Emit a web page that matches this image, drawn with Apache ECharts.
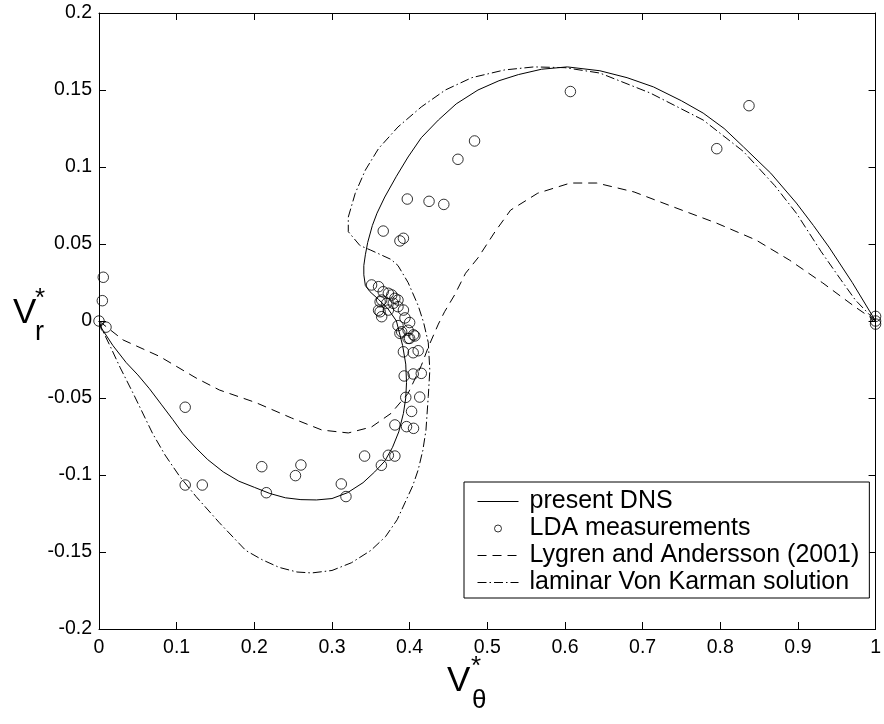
<!DOCTYPE html>
<html><head><meta charset="utf-8">
<script src="https://cdn.jsdelivr.net/npm/echarts@6/dist/echarts.min.js"></script>
<style>html,body{margin:0;padding:0;background:#fff}#c{width:884px;height:724px}</style>
</head><body><div id="c"></div>
<script>
// x tick labels / y tick labels
var xTicks = ['0','0.1','0.2','0.3','0.4','0.5','0.6','0.7','0.8','0.9','1'];
var yTicks = ['-0.2','-0.15','-0.1','-0.05','0','0.05','0.1','0.15','0.2'];
var legendNames = ['present DNS','LDA measurements','Lygren and Andersson (2001)','laminar Von Karman solution'];

// present DNS (solid)
var dnsX = [0,0.003,0.018,0.035,0.05,0.065,0.08,0.095,0.108,0.125,0.14,0.16,0.18,0.2,0.22,0.24,0.26,0.28,0.30,0.32,0.34,0.355,0.368,0.378,0.386,0.392,0.395,0.396,0.395,0.391,0.383,0.372,0.36,0.349,0.343,0.341,0.341,0.343,0.346,0.352,0.358,0.368,0.383,0.398,0.415,0.437,0.46,0.488,0.515,0.54,0.57,0.603,0.645,0.68,0.714,0.75,0.778,0.805,0.83,0.865,0.898,0.92,0.94,0.97,1.0];
var dnsY = [0,-0.0045,-0.016,-0.027,-0.035,-0.044,-0.054,-0.064,-0.073,-0.0825,-0.090,-0.098,-0.104,-0.108,-0.112,-0.1148,-0.116,-0.1162,-0.1153,-0.1115,-0.105,-0.098,-0.091,-0.082,-0.072,-0.060,-0.050,-0.040,-0.028,-0.016,0.0,0.008,0.014,0.019,0.023,0.030,0.036,0.043,0.051,0.062,0.070,0.0805,0.094,0.1065,0.119,0.1305,0.141,0.150,0.156,0.160,0.1635,0.165,0.1625,0.158,0.152,0.143,0.135,0.125,0.113,0.096,0.0766,0.062,0.048,0.025,0.0];

// LDA measurements (circles)
var ldaX = [0,0.0055,0.0043,0.009,0.111,0.111,0.133,0.2096,0.2155,0.26,0.253,0.312,0.318,0.342,0.3636,0.3726,0.381,
  0.381,0.396,0.405,0.4025,0.395,0.413,0.393,0.4046,0.415,0.392,0.4046,0.411,0.400,0.4067,0.3875,
  0.385,0.400,0.394,0.3897,0.398,0.405,0.398,
  0.351,0.360,0.366,0.3726,0.377,0.381,0.385,0.364,0.3705,0.379,0.362,0.3726,0.364,0.385,0.392,0.362,0.36,
  0.366,0.3875,0.392,0.397,0.425,0.444,0.4622,0.4836,0.607,0.7955,0.837,1,1,1];
var ldaY = [0,0.0284,0.0132,-0.004,-0.056,-0.1065,-0.1065,-0.0946,-0.1115,-0.0935,-0.1004,-0.1058,-0.114,-0.0877,-0.0937,-0.0872,-0.0877,
  -0.0675,-0.0686,-0.0697,-0.0587,-0.0496,-0.0494,-0.0357,-0.0344,-0.034,-0.020,-0.0206,-0.0193,-0.0113,-0.0097,-0.008,
  -0.003,-0.001,0.002,-0.007,-0.006,-0.009,-0.0113,
  0.0234,0.0223,0.019,0.018,0.0169,0.0147,0.0136,0.0136,0.0115,0.0115,0.006,0.0071,0.0028,0.0093,0.0071,0.0125,0.007,
  0.0584,0.052,0.0537,0.0792,0.0777,0.0757,0.105,0.1169,0.149,0.1119,0.1398,0.003,0,-0.002];

// Lygren and Andersson (2001) (dashed)
var lygX = [0,0.031,0.078,0.125,0.155,0.202,0.248,0.287,0.321,0.351,0.376,0.398,0.415,0.424,0.437,0.445,0.458,0.472,0.488,0.51,0.53,0.565,0.607,0.641,0.689,0.74,0.795,0.846,0.889,0.932,0.974,1.0];
var lygY = [0,-0.0123,-0.023,-0.037,-0.0448,-0.053,-0.063,-0.0708,-0.0727,-0.0688,-0.060,-0.047,-0.029,-0.017,-0.002,0.006,0.017,0.031,0.041,0.058,0.072,0.083,0.0896,0.0896,0.0838,0.074,0.0636,0.0526,0.0396,0.0247,0.009,0.0];

// laminar Von Karman solution (dash-dot)
var vkX = [0,0.003,0.015,0.027,0.044,0.069,0.085,0.104,0.125,0.155,0.189,0.21,0.232,0.255,0.274,0.30,0.325,0.35,0.369,0.384,0.394,0.404,0.411,0.417,0.421,0.424,0.426,0.424,0.418,0.411,0.398,0.385,0.376,0.35,0.336,0.321,0.321,0.33,0.343,0.36,0.385,0.415,0.446,0.48,0.522,0.56,0.60,0.645,0.71,0.778,0.83,0.87,0.898,0.93,0.955,0.974,1.0];
var vkY = [0,-0.0045,-0.017,-0.030,-0.047,-0.073,-0.087,-0.101,-0.114,-0.131,-0.149,-0.155,-0.160,-0.163,-0.1636,-0.162,-0.157,-0.149,-0.140,-0.129,-0.118,-0.107,-0.0967,-0.084,-0.071,-0.049,-0.032,-0.014,-0.001,0.010,0.025,0.036,0.040,0.046,0.049,0.058,0.0675,0.083,0.098,0.112,0.126,0.139,0.150,0.158,0.163,0.165,0.1645,0.161,0.148,0.1305,0.110,0.088,0.070,0.045,0.027,0.0136,0.0];

function zip(a,b){return a.map(function(v,i){return [v,b[i]];});}
var FONT = "'Liberation Sans', Arial, Helvetica, sans-serif";
var fmt = function(v){var s = parseFloat(v.toFixed(3)).toString(); return s;};
var noDot = {color:'rgba(0,0,0,0)',borderWidth:0,borderColor:'rgba(0,0,0,0)'};
var ring = {color:'rgba(0,0,0,0)',borderWidth:1,borderColor:'#000'};

var chart = echarts.init(document.getElementById('c'), null, {renderer:'canvas'});
var axisCommon = {
  axisLine:{show:true,onZero:false,lineStyle:{color:'#000',width:1}},
  axisTick:{show:true,inside:true,length:7,lineStyle:{color:'#000',width:1}},
  splitLine:{show:false}
};
chart.setOption({
  backgroundColor:'#fff',
  animation:false,
  grid:{left:99,right:4,top:13,bottom:95,containLabel:false},
  xAxis:[
    Object.assign({type:'value',min:0,max:1,interval:0.1,position:'bottom',
      axisLabel:{show:true,color:'#000',fontSize:19.5,fontFamily:FONT,margin:9,
        formatter:function(v){var s=fmt(v);return xTicks.indexOf(s)>=0?s:'';}}},axisCommon),
    Object.assign({type:'value',min:0,max:1,interval:0.1,position:'top',axisLabel:{show:false}},axisCommon)
  ],
  yAxis:[
    Object.assign({type:'value',min:-0.2,max:0.2,interval:0.05,position:'left',
      axisLabel:{show:true,color:'#000',fontSize:19.5,fontFamily:FONT,margin:7,
        formatter:function(v){var s=fmt(v);return yTicks.indexOf(s)>=0?s:'';}}},axisCommon),
    Object.assign({type:'value',min:-0.2,max:0.2,interval:0.05,position:'right',axisLabel:{show:false}},axisCommon)
  ],
  legend:{
    orient:'vertical',left:464,top:482,
    data:[{name:legendNames[0],itemStyle:noDot},{name:legendNames[1],icon:'circle',itemStyle:ring},{name:legendNames[2],itemStyle:noDot},{name:legendNames[3],itemStyle:noDot}],
    backgroundColor:'#fff',borderColor:'#000',borderWidth:1,borderRadius:0,
    padding:[7,10,3,13],itemGap:2,itemWidth:41,itemHeight:7,
    lineStyle:{width:1},
    textStyle:{color:'#000',fontSize:25,fontFamily:FONT,padding:[0,0,0,6]}
  },
  series:[
    {name:legendNames[0],type:'line',data:zip(dnsX,dnsY),symbol:'none',showSymbol:false,smooth:false,
      lineStyle:{color:'#000',width:1,type:'solid'},itemStyle:{color:'#000'},z:3},
    {name:legendNames[2],type:'line',data:zip(lygX,lygY),symbol:'none',showSymbol:false,smooth:false,
      lineStyle:{color:'#000',width:1,type:[9,6]},itemStyle:{color:'#000'},z:3},
    {name:legendNames[3],type:'line',data:zip(vkX,vkY),symbol:'none',showSymbol:false,smooth:false,
      lineStyle:{color:'#000',width:1,type:[9,3,1.5,3]},itemStyle:{color:'#000'},z:3},
    {name:legendNames[1],type:'scatter',data:zip(ldaX,ldaY),symbol:'circle',symbolSize:10.5,clip:false,
      itemStyle:{color:'rgba(0,0,0,0)',borderColor:'#000',borderWidth:1},z:4}
  ],
  graphic:[
    {type:'text',style:{x:13,y:313,text:'V',fill:'#000',font:'35px '+FONT,textAlign:'left',textVerticalAlign:'middle'}},
    {type:'text',style:{x:35,y:299,text:'*',fill:'#000',font:'26px '+FONT,textAlign:'left',textVerticalAlign:'middle'}},
    {type:'text',style:{x:35,y:333,text:'r',fill:'#000',font:'27px '+FONT,textAlign:'left',textVerticalAlign:'middle'}},
    {type:'text',style:{x:447,y:681,text:'V',fill:'#000',font:'35px '+FONT,textAlign:'left',textVerticalAlign:'middle'}},
    {type:'text',style:{x:471,y:667,text:'*',fill:'#000',font:'26px '+FONT,textAlign:'left',textVerticalAlign:'middle'}},
    {type:'text',style:{x:472,y:701,text:'θ',fill:'#000',font:'26px '+FONT,textAlign:'left',textVerticalAlign:'middle'}}
  ]
});
</script></body></html>
